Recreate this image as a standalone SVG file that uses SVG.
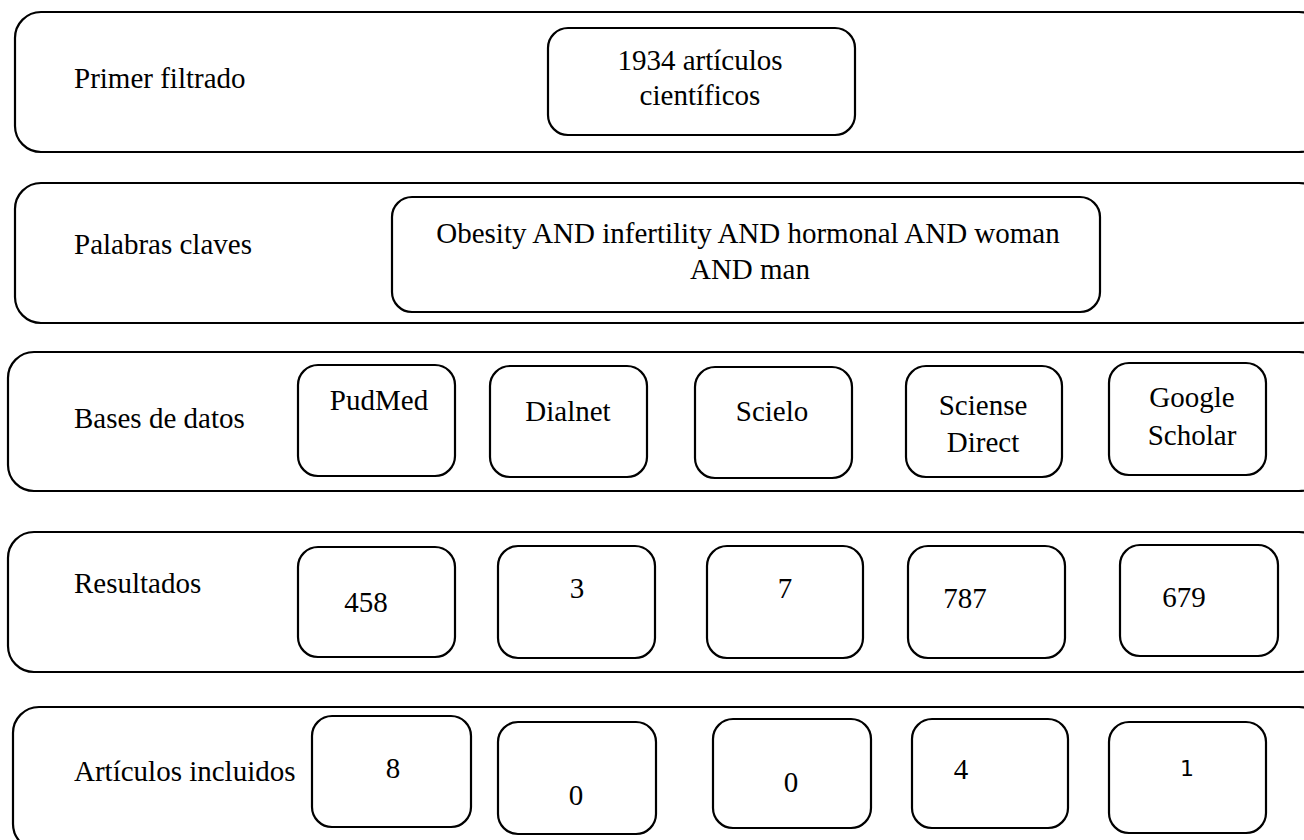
<svg xmlns="http://www.w3.org/2000/svg" width="1304" height="840" viewBox="0 0 1304 840">
<style>
.row{fill:#fff;stroke:#000;stroke-width:2.2}
.box{fill:#fff;stroke:#000;stroke-width:2.2}
text{font-family:'Liberation Serif','Times New Roman',serif;font-size:29px;fill:#000}
.c{text-anchor:middle}
.sans{font-family:'DejaVu Sans',sans-serif;font-size:22px}
</style>
<rect width="1304" height="840" fill="#fff"/>
<g id="row1">
<rect class="row" x="15" y="12" width="1310" height="140" rx="26"/>
<text x="74" y="88">Primer filtrado</text>
</g>
<g id="n-1934">
<rect class="box" x="548" y="28" width="307" height="107" rx="20"/>
<text class="c" x="700" y="70">1934 artículos</text>
<text class="c" x="700" y="105">científicos</text>
</g>
<g id="row2">
<rect class="row" x="15" y="183" width="1310" height="140" rx="26"/>
<text x="74" y="254">Palabras claves</text>
</g>
<g id="n-keywords">
<rect class="box" x="392" y="197" width="708" height="115" rx="20"/>
<text class="c" x="748" y="243">Obesity AND infertility AND hormonal AND woman</text>
<text class="c" x="750" y="279">AND man</text>
</g>
<g id="row3">
<rect class="row" x="8" y="352" width="1317" height="139" rx="26"/>
<text x="74" y="428">Bases de datos</text>
</g>
<g id="n-pudmed">
<rect class="box" x="298" y="365" width="157" height="111" rx="20"/>
<text class="c" x="379" y="410">PudMed</text>
</g>
<g id="n-dialnet">
<rect class="box" x="490" y="366" width="157" height="111" rx="20"/>
<text class="c" x="568" y="421">Dialnet</text>
</g>
<g id="n-scielo">
<rect class="box" x="695" y="367" width="157" height="111" rx="20"/>
<text class="c" x="772" y="421">Scielo</text>
</g>
<g id="n-sciense">
<rect class="box" x="906" y="366" width="156" height="111" rx="20"/>
<text class="c" x="983" y="415">Sciense</text>
<text class="c" x="983" y="452">Direct</text>
</g>
<g id="n-google">
<rect class="box" x="1109" y="363" width="157" height="112" rx="20"/>
<text class="c" x="1192" y="407">Google</text>
<text class="c" x="1192" y="445">Scholar</text>
</g>
<g id="row4">
<rect class="row" x="8" y="532" width="1317" height="140" rx="26"/>
<text x="74" y="593">Resultados</text>
</g>
<g id="n-r1"><rect class="box" x="298" y="547" width="157" height="110" rx="20"/><text class="c" x="366" y="612">458</text></g>
<g id="n-r2"><rect class="box" x="498" y="546" width="157" height="112" rx="20"/><text class="c" x="577" y="598">3</text></g>
<g id="n-r3"><rect class="box" x="707" y="546" width="156" height="112" rx="20"/><text class="c" x="785" y="598">7</text></g>
<g id="n-r4"><rect class="box" x="908" y="546" width="157" height="112" rx="20"/><text class="c" x="965" y="608">787</text></g>
<g id="n-r5"><rect class="box" x="1120" y="545" width="158" height="111" rx="20"/><text class="c" x="1184" y="607">679</text></g>
<g id="row5">
<rect class="row" x="13" y="707" width="1312" height="143" rx="26"/>
<text x="74" y="781">Artículos incluidos</text>
</g>
<g id="n-a1"><rect class="box" x="312" y="716" width="159" height="111" rx="20"/><text class="c" x="393" y="778">8</text></g>
<g id="n-a2"><rect class="box" x="498" y="722" width="158" height="112" rx="20"/><text class="c" x="576" y="805">0</text></g>
<g id="n-a3"><rect class="box" x="713" y="719" width="158" height="109" rx="20"/><text class="c" x="791" y="792">0</text></g>
<g id="n-a4"><rect class="box" x="912" y="719" width="156" height="109" rx="20"/><text class="c" x="961" y="779">4</text></g>
<g id="n-a5"><rect class="box" x="1109" y="722" width="157" height="111" rx="20"/><text class="c sans" x="1187" y="776">1</text></g>
<g id="connectors"/>
</svg>
